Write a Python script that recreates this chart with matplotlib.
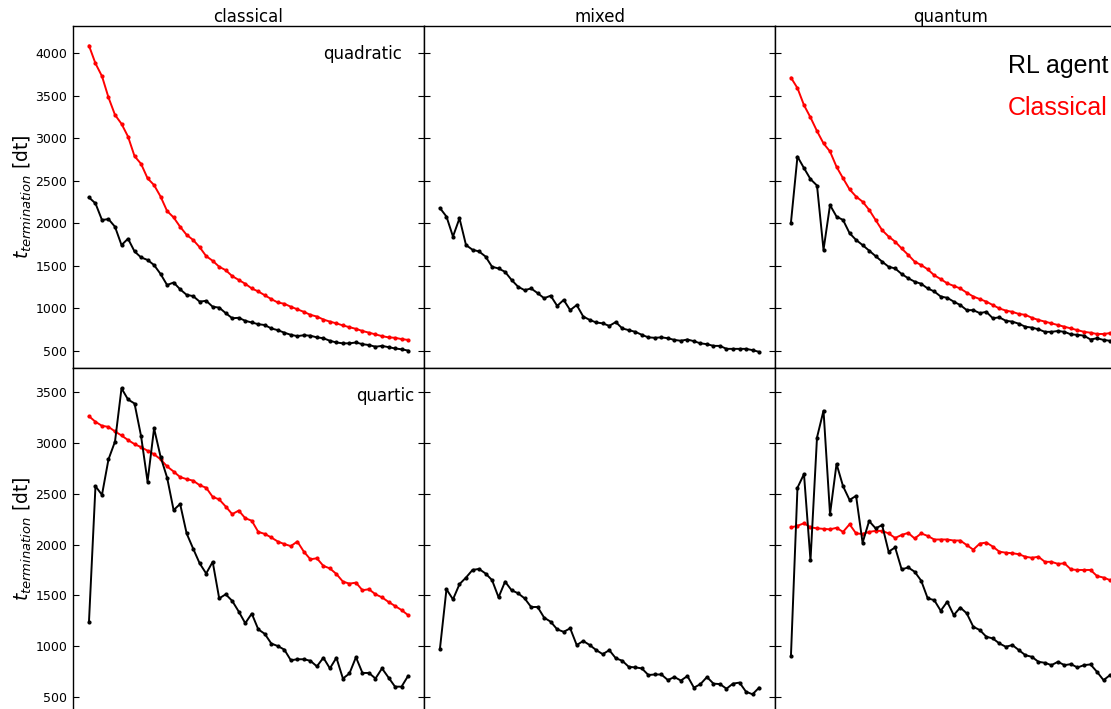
import matplotlib
matplotlib.use("Agg")
import matplotlib.pyplot as plt
import numpy as np

COLUMNS = ["classical", "mixed", "quantum"]
ROWS = ["quadratic", "quartic"]

# termination time per training step (50 steps per panel)
quad_classical_rl = [
    2305, 2235, 2040, 2050, 1960, 1745, 1820, 1670, 1600, 1570,
    1510, 1405, 1275, 1305, 1225, 1160, 1145, 1080, 1090, 1020,
    1010, 945, 885, 890, 855, 835, 815, 805, 765, 745,
    715, 690, 675, 685, 680, 660, 650, 620, 600, 590,
    590, 600, 580, 570, 550, 560, 545, 530, 520, 505,
]
quad_classical_ref = [
    4090, 3880, 3730, 3480, 3275, 3170, 3020, 2790, 2700, 2530,
    2450, 2315, 2145, 2070, 1960, 1865, 1805, 1720, 1615, 1560,
    1490, 1450, 1380, 1335, 1290, 1235, 1200, 1155, 1110, 1070,
    1055, 1020, 990, 960, 925, 905, 870, 845, 825, 800,
    780, 760, 735, 715, 695, 675, 660, 655, 640, 630,
]
quad_mixed_rl = [
    2180, 2080, 1845, 2060, 1745, 1690, 1670, 1610, 1490, 1470,
    1430, 1335, 1255, 1215, 1235, 1180, 1120, 1150, 1030, 1100,
    980, 1040, 905, 865, 835, 825, 795, 840, 765, 745,
    725, 690, 660, 655, 660, 650, 630, 620, 635, 615,
    590, 580, 560, 560, 525, 525, 525, 525, 510, 490,
]
quad_quantum_rl = [
    2010, 2785, 2650, 2520, 2445, 1690, 2215, 2080, 2040, 1885,
    1805, 1745, 1680, 1615, 1550, 1490, 1470, 1405, 1355, 1315,
    1290, 1235, 1200, 1140, 1125, 1080, 1040, 980, 980, 945,
    960, 885, 895, 855, 845, 820, 785, 775, 755, 725,
    725, 735, 725, 695, 690, 680, 635, 650, 630, 620,
]
quad_quantum_ref = [
    3713, 3590, 3390, 3245, 3085, 2940, 2845, 2665, 2530, 2400,
    2315, 2255, 2160, 2040, 1920, 1845, 1785, 1705, 1630, 1550,
    1510, 1460, 1390, 1345, 1295, 1265, 1235, 1185, 1140, 1110,
    1080, 1040, 1000, 975, 960, 935, 925, 890, 865, 845,
    825, 805, 785, 765, 745, 725, 715, 700, 700, 710,
]

quart_classical_rl = [
    1235, 2575, 2490, 2840, 3015, 3540, 3430, 3390, 3070, 2620,
    3145, 2865, 2660, 2340, 2400, 2110, 1960, 1815, 1715, 1830,
    1470, 1510, 1445, 1340, 1225, 1320, 1165, 1120, 1025, 1000,
    965, 860, 870, 870, 855, 800, 885, 780, 885, 680,
    730, 890, 735, 735, 680, 780, 690, 600, 600, 705,
]
quart_classical_ref = [
    3265, 3210, 3170, 3160, 3115, 3075, 3030, 2990, 2960, 2925,
    2890, 2840, 2770, 2720, 2665, 2645, 2630, 2585, 2560, 2470,
    2445, 2375, 2300, 2335, 2260, 2235, 2125, 2105, 2070, 2030,
    2005, 1985, 2030, 1930, 1855, 1865, 1790, 1765, 1710, 1635,
    1615, 1625, 1550, 1560, 1510, 1480, 1435, 1395, 1355, 1305,
]
quart_mixed_rl = [
    975, 1560, 1460, 1610, 1675, 1750, 1760, 1715, 1650, 1480,
    1635, 1550, 1520, 1470, 1385, 1385, 1280, 1240, 1165, 1140,
    1175, 1010, 1050, 1010, 960, 920, 960, 880, 855, 795,
    790, 780, 715, 720, 720, 665, 695, 660, 705, 590,
    625, 695, 630, 625, 580, 630, 640, 550, 525, 590,
]
quart_quantum_rl = [
    905, 2560, 2695, 1845, 3055, 3320, 2300, 2795, 2575, 2440,
    2480, 2018, 2232, 2160, 2192, 1930, 1972, 1755, 1775, 1732,
    1644, 1470, 1453, 1348, 1437, 1305, 1380, 1322, 1190, 1158,
    1092, 1075, 1026, 993, 1010, 960, 910, 894, 845, 835,
    812, 845, 812, 822, 789, 812, 819, 746, 664, 714,
]
quart_quantum_ref = [
    2169, 2185, 2210, 2170, 2160, 2155, 2150, 2165, 2125, 2200,
    2110, 2105, 2125, 2135, 2135, 2110, 2065, 2095, 2115, 2060,
    2110, 2085, 2050, 2050, 2050, 2040, 2040, 1995, 1950, 2010,
    2020, 1980, 1930, 1920, 1915, 1905, 1880, 1870, 1880, 1830,
    1830, 1810, 1815, 1755, 1750, 1750, 1750, 1690, 1675, 1650,
]

PANELS = {
    (0, 0): (quad_classical_rl, quad_classical_ref),
    (0, 1): (quad_mixed_rl, None),
    (0, 2): (quad_quantum_rl, quad_quantum_ref),
    (1, 0): (quart_classical_rl, quart_classical_ref),
    (1, 1): (quart_mixed_rl, None),
    (1, 2): (quart_quantum_rl, quart_quantum_ref),
}
ROW_YLIM = [(300, 4320), (370, 3740)]
ROW_YTICKS = [np.arange(500, 4001, 500), np.arange(500, 3501, 500)]
ROW_LABEL_POS = [(0.937, 0.918), (0.974, 0.918)]

W, H = 1111, 709
fig = plt.figure(figsize=(W / 100, H / 100), dpi=100)

# panel layout in pixels: left edge of first column, column width, row top/height
x0, col_w = 73, 351
y0, row_h = 26, 342

for (r, c), (rl, ref) in PANELS.items():
    left = (x0 + c * col_w) / W
    bottom = 1 - (y0 + (r + 1) * row_h) / H
    ax = fig.add_axes([left, bottom, col_w / W, row_h / H])
    steps = np.arange(len(rl))
    if ref is not None:
        ax.plot(steps, ref, color="red", lw=1.4, marker="o", ms=2)
    ax.plot(steps, rl, color="black", lw=1.4, marker="o", ms=2)

    ax.set_xlim(-0.05 * 49, 49 * 1.05)
    ax.set_ylim(*ROW_YLIM[r])
    ax.set_yticks(ROW_YTICKS[r])
    ax.set_xticks([])
    ax.tick_params(axis="y", direction="in", length=4, left=True, right=True,
                   labelsize=9, pad=4)
    if c > 0:
        ax.set_yticklabels([])
    else:
        ax.set_ylabel(r"$t_{termination}$ [dt]", fontsize=13.5, labelpad=1)
        lx, ly = ROW_LABEL_POS[r]
        ax.text(lx, ly, ROWS[r], transform=ax.transAxes, ha="right",
                va="center", fontsize=12)
    if r == 0:
        ax.set_title(COLUMNS[c], fontsize=12, pad=2)
    for sp in ax.spines.values():
        sp.set_linewidth(1.0)

fig.text(1008 / W, 1 - 73 / H, "RL agent", color="black", fontsize=18,
         family="Liberation Sans", va="baseline")
fig.text(1008 / W, 1 - 115 / H, "Classical", color="red", fontsize=18,
         family="Liberation Sans", va="baseline")

fig.savefig("out.png", dpi=100)
